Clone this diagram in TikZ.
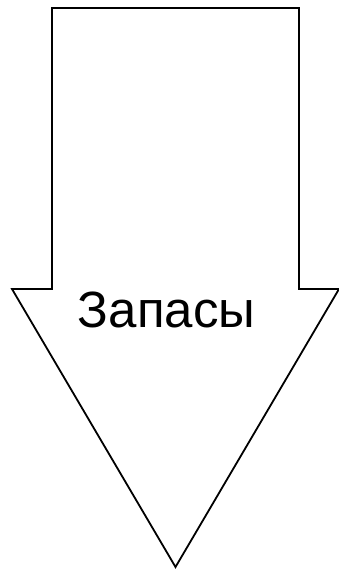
\documentclass[tikz,border=0pt]{standalone}
\usepackage{fontspec}
\setmainfont{Liberation Sans}
\usepackage{tikz}
\usetikzlibrary{positioning,calc}
\tikzstyle{arrowline}=[draw=black, line width=1.8pt, line join=miter, fill=white]
\tikzstyle{arrowlabel}=[font=\fontsize{51}{57}\selectfont, inner sep=0pt, anchor=base]

\begin{document}
\begin{tikzpicture}[x=1pt, y=-1pt]
        \useasboundingbox (0,0) rectangle (338,569);
        % Стрелка вниз
        \coordinate (sl) at (52,8);
        \coordinate (sr) at (299,8);
        \coordinate (bl) at (52,289);
        \coordinate (br) at (299,289);
        \coordinate (hl) at (12,289);
        \coordinate (hr) at (339,289);
        \coordinate (tip) at (175.5,567);

        \draw[arrowline] (sl) -- (sr) -- (br) -- (hr) -- (tip) -- (hl) -- (bl) -- cycle;

        % Подпись
        \node[arrowlabel] (zap) at (166.5,327) {Запасы};
      \end{tikzpicture}
\end{document}
